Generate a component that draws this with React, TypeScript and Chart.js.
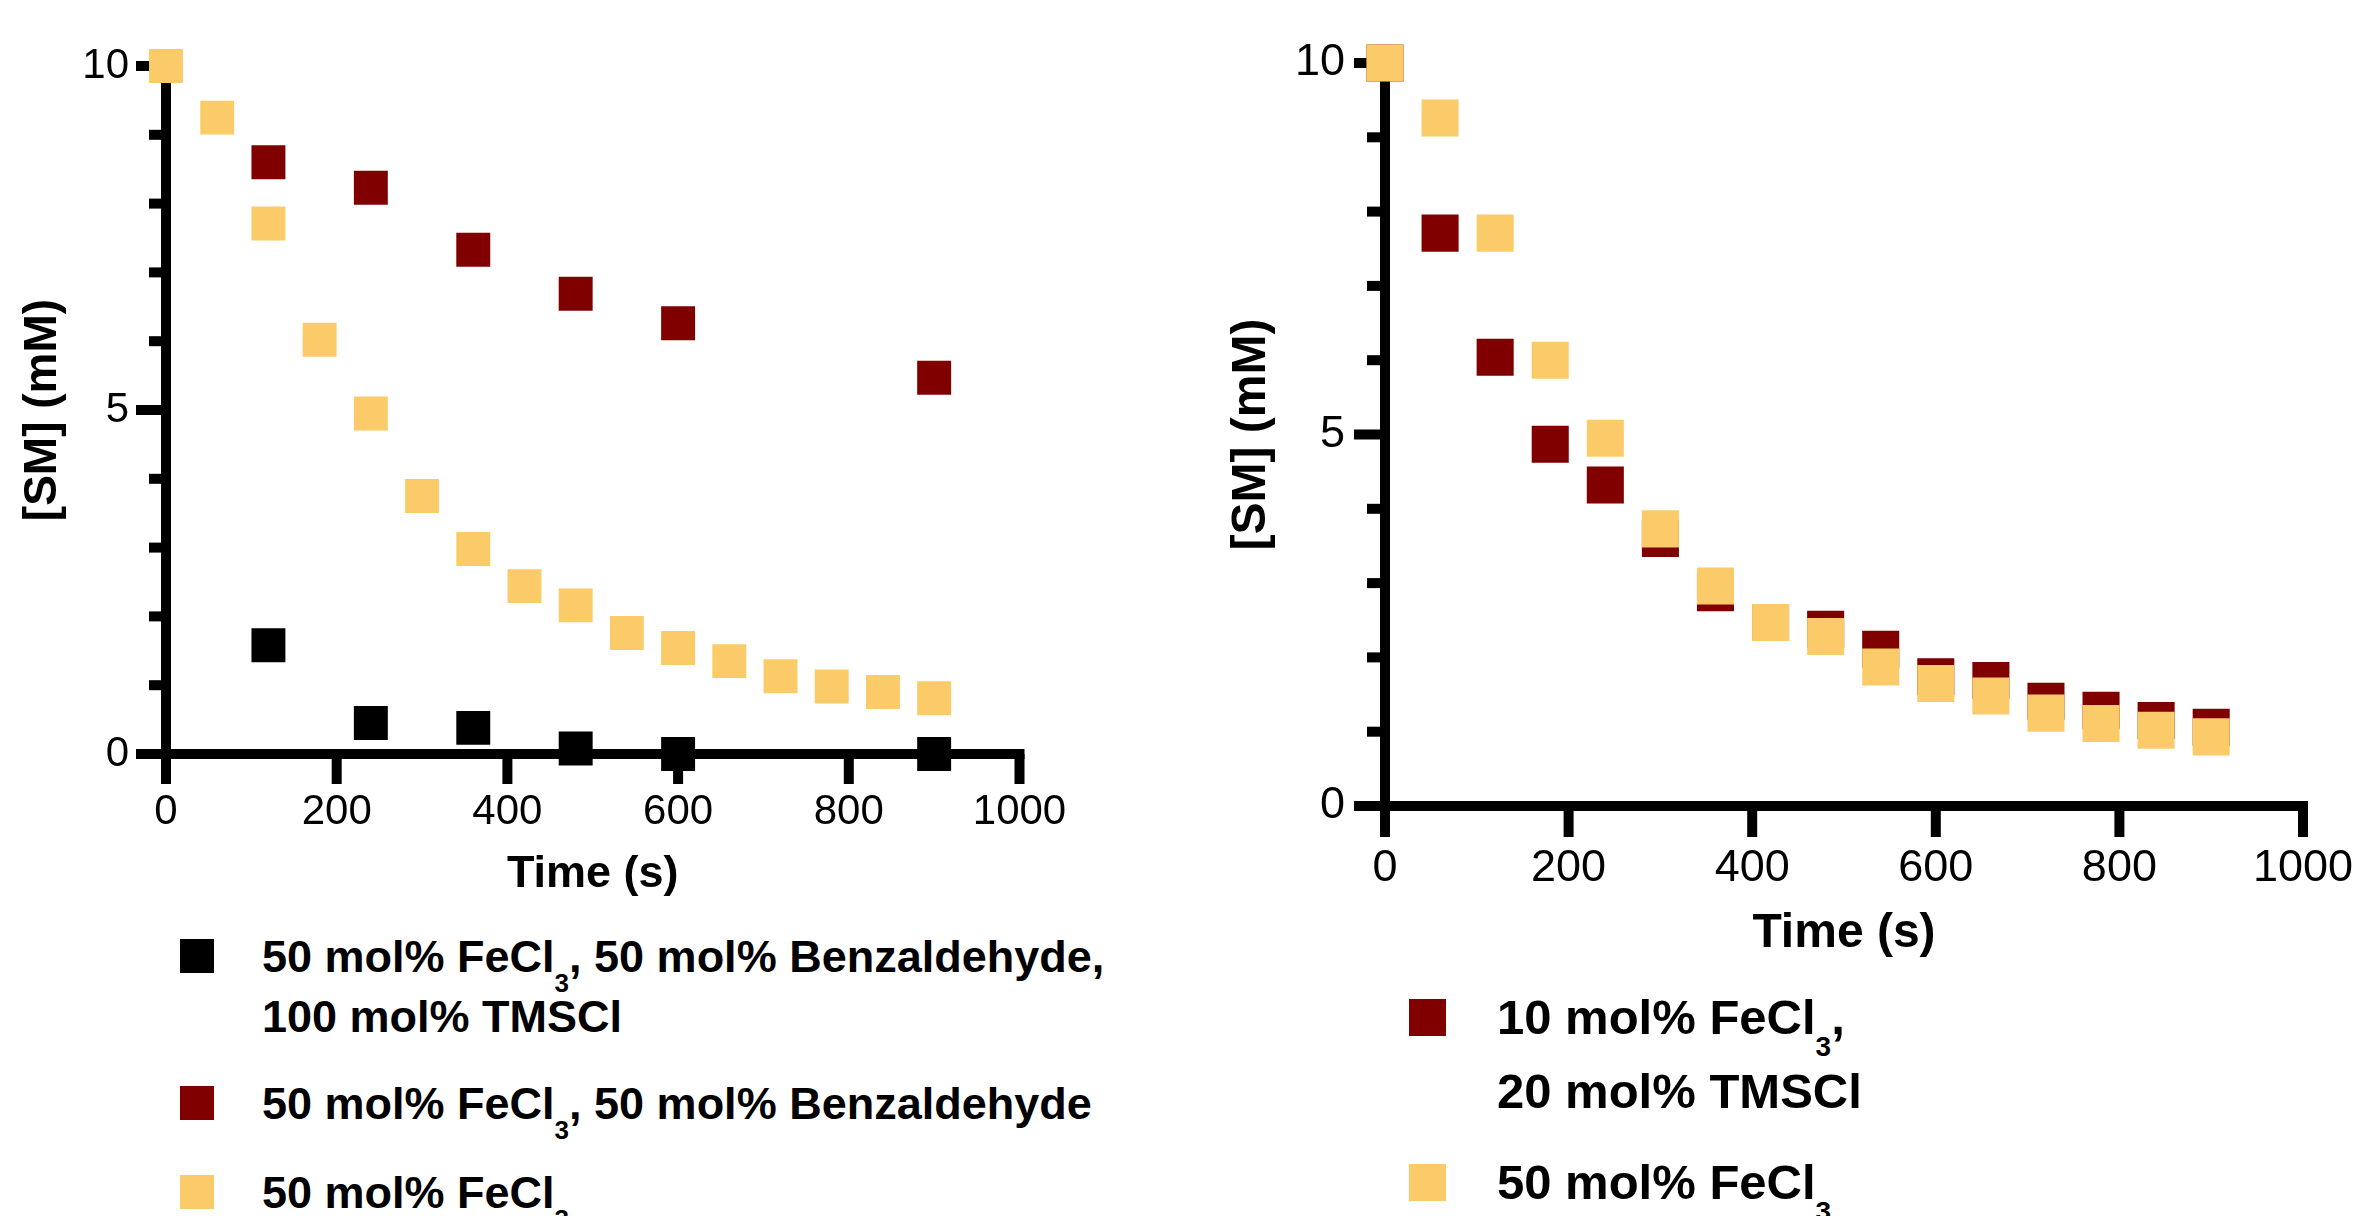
import React, { useEffect, useRef } from 'react';
import { Chart, registerables } from 'chart.js';

Chart.register(...registerables);

// ---------- DATA ----------
const timeLeftAll = [0, 60, 120, 180, 240, 300, 360, 420, 480, 540, 600, 660, 720, 780, 840, 900];
const smLeftFeCl3 = [10, 9.25, 7.71, 6.02, 4.95, 3.75, 2.98, 2.44, 2.16, 1.76, 1.54, 1.35, 1.13, 0.98, 0.9, 0.81];
const timeLeftSparse = [120, 240, 360, 480, 600, 900];
const smLeftBenz = [8.6, 8.23, 7.33, 6.69, 6.26, 5.47];
const smLeftBenzTMS = [1.58, 0.45, 0.38, 0.08, 0.0, 0.0];

const timeRight = [0, 60, 120, 180, 240, 300, 360, 420, 480, 540, 600, 660, 720, 780, 840, 900];
const smRightFeCl3 = [10, 9.26, 7.71, 6.0, 4.95, 3.73, 2.96, 2.47, 2.28, 1.87, 1.65, 1.48, 1.25, 1.11, 1.02, 0.93];
const smRightTMS = [10, 7.71, 6.04, 4.87, 4.32, 3.6, 2.87, 2.47, 2.38, 2.11, 1.74, 1.69, 1.41, 1.29, 1.15, 1.06];

const xTitle = 'Time (s)';
const yTitle = '[SM] (mM)';
const xMin = 0, xMax = 1000, xStep = 200;
const yMin = 0, yMax = 10, yStep = 1, yLabelEvery = 5;

const labelsLeft = [
  ['50 mol% FeCl_3, 50 mol% Benzaldehyde,', '100 mol% TMSCl'],
  ['50 mol% FeCl_3, 50 mol% Benzaldehyde'],
  ['50 mol% FeCl_3'],
];
const labelsRight = [
  ['10 mol% FeCl_3,', '20 mol% TMSCl'],
  ['50 mol% FeCl_3'],
];

const BLACK = '#000000';
const MAROON = '#800000';
const YELLOW = '#FCCB69';
const FONT = '"Liberation Sans", Arial, Helvetica, sans-serif';

const pts = (xs: number[], ys: number[]) => xs.map((x, i) => ({ x, y: ys[i] }));

// ---------- axis drawing plugin (uses chart scales) ----------
function axesPlugin(major: number, minor: number, lw: number) {
  return {
    id: 'prismAxes',
    beforeDatasetsDraw(chart: any) {
      const { ctx } = chart;
      const xs = chart.scales.x;
      const ys = chart.scales.y;
      const left = xs.getPixelForValue(xMin);
      const right = xs.getPixelForValue(xMax);
      const top = ys.getPixelForValue(yMax);
      const bottom = ys.getPixelForValue(yMin);
      const h = lw / 2;
      ctx.save();
      ctx.fillStyle = '#000';
      ctx.fillRect(left - h, top - h, lw, bottom - top + h);
      ctx.fillRect(left - h - major, bottom - h, right - left + lw + major, lw);
      ys.ticks.forEach((t: any) => {
        const y = ys.getPixelForValue(t.value);
        const len = Math.round(t.value) % yLabelEvery === 0 ? major : minor;
        ctx.fillRect(left - h - len, y - h, len, lw);
      });
      xs.ticks.forEach((t: any) => {
        const x = xs.getPixelForValue(t.value);
        ctx.fillRect(x - h, bottom, lw, h + major);
      });
      ctx.restore();
    },
  };
}

interface PanelOpts {
  width: number;
  height: number;
  areaLeft: number;
  areaTop: number;
  areaRight: number;
  areaBottom: number;
  tickSize: number;
  tickPad: number;
  xTitleSize: number;
  xTitlePadBottom: number;
  yTitleSize: number;
  yTitlePadTop: number;
  radius: number;
  major: number;
  minor: number;
  lw: number;
  datasets: any[];
}

function buildConfig(o: PanelOpts): any {
  const tickFont = { family: FONT, size: o.tickSize, lineHeight: 1 };
  return {
    type: 'scatter',
    data: {
      datasets: o.datasets.map((d) => ({
        ...d,
        pointStyle: 'rect',
        pointRadius: o.radius,
        pointHoverRadius: o.radius,
        borderWidth: 0,
        pointBorderWidth: 0,
        borderColor: d.backgroundColor,
        showLine: false,
        clip: false,
      })),
    },
    options: {
      animation: false,
      responsive: false,
      maintainAspectRatio: false,
      events: [],
      layout: {
        padding: { top: o.areaTop, left: 0, right: o.width - o.areaRight, bottom: 0 },
      },
      plugins: { legend: { display: false }, tooltip: { enabled: false } },
      scales: {
        x: {
          type: 'linear',
          min: xMin,
          max: xMax,
          grid: { display: false, drawTicks: false },
          border: { display: false },
          ticks: {
            stepSize: xStep,
            padding: o.tickPad,
            color: '#000',
            font: tickFont,
            maxRotation: 0,
            autoSkip: false,
            callback: (v: number) => String(v),
          },
          title: {
            display: true,
            text: xTitle,
            color: '#000',
            font: { family: FONT, size: o.xTitleSize, weight: 'bold', lineHeight: 1 },
            padding: { top: 0, bottom: o.xTitlePadBottom },
          },
          afterFit: (s: any) => {
            s.height = o.height - o.areaBottom;
            s.paddingLeft = 0;
            s.paddingRight = 0;
          },
        },
        y: {
          type: 'linear',
          min: yMin,
          max: yMax,
          grid: { display: false, drawTicks: false },
          border: { display: false },
          ticks: {
            stepSize: yStep,
            padding: o.tickPad,
            color: '#000',
            font: tickFont,
            autoSkip: false,
            callback: (v: number) => (Math.round(v) % yLabelEvery === 0 ? String(v) : ''),
          },
          title: {
            display: true,
            text: yTitle,
            color: '#000',
            font: { family: FONT, size: o.yTitleSize, weight: 'bold', lineHeight: 1 },
            padding: { top: o.yTitlePadTop, bottom: 0 },
          },
          afterFit: (s: any) => {
            s.width = o.areaLeft;
            s.paddingTop = 0;
            s.paddingBottom = 0;
          },
        },
      },
    },
    plugins: [axesPlugin(o.major, o.minor, o.lw)],
  };
}

function Panel({ left, top, opts }: { left: number; top: number; opts: PanelOpts }) {
  const ref = useRef<HTMLCanvasElement>(null);
  useEffect(() => {
    const chart = new Chart(ref.current as HTMLCanvasElement, buildConfig(opts));
    return () => chart.destroy();
  }, []);
  return (
    <canvas
      ref={ref}
      width={opts.width}
      height={opts.height}
      style={{ position: 'absolute', left, top, width: opts.width, height: opts.height }}
    />
  );
}

function RichLine({ text, fs }: { text: string; fs: number }) {
  const parts = text.split(/_(\d)/);
  return (
    <>
      {parts.map((p, i) =>
        i % 2 === 1 ? (
          <span
            key={i}
            style={{ fontSize: Math.round(fs * 0.58), position: 'relative', top: Math.round(fs * 0.45) }}
          >
            {p}
          </span>
        ) : (
          <span key={i}>{p}</span>
        )
      )}
    </>
  );
}

interface LegendItem {
  color: string;
  cy: number;
  lines: string[];
}

function Legend({ items, sqX, sq, textX, fs, lineGap }: { items: LegendItem[]; sqX: number; sq: number; textX: number; fs: number; lineGap: number }) {
  return (
    <>
      {items.map((it, k) => (
        <React.Fragment key={k}>
          <div
            style={{
              position: 'absolute',
              left: sqX - sq / 2,
              top: it.cy - sq / 2,
              width: sq,
              height: sq,
              background: it.color,
            }}
          />
          {it.lines.map((ln, j) => (
            <div
              key={j}
              style={{
                position: 'absolute',
                left: textX,
                top: Math.round(it.cy + j * lineGap - 0.49 * fs),
                fontSize: fs,
                lineHeight: 1,
                fontWeight: 'bold',
                fontFamily: FONT,
                color: '#000',
                whiteSpace: 'nowrap',
              }}
            >
              <RichLine text={ln} fs={fs} />
            </div>
          ))}
        </React.Fragment>
      ))}
    </>
  );
}

const leftOpts: PanelOpts = {
  width: 1150,
  height: 920,
  areaLeft: 166,
  areaTop: 66,
  areaRight: 1019.5,
  areaBottom: 754,
  tickSize: 42,
  tickPad: 37,
  xTitleSize: 45,
  xTitlePadBottom: 22.5,
  yTitleSize: 46,
  yTitlePadTop: 20,
  radius: 24,
  major: 25,
  minor: 12,
  lw: 10,
  datasets: [
    { label: labelsLeft[0].join(' '), data: pts(timeLeftSparse, smLeftBenzTMS), backgroundColor: BLACK },
    { label: labelsLeft[1].join(' '), data: pts(timeLeftSparse, smLeftBenz), backgroundColor: MAROON },
    { label: labelsLeft[2].join(' '), data: pts(timeLeftAll, smLeftFeCl3), backgroundColor: YELLOW },
  ],
};

const RIGHT_LEFT = 1180;
const rightOpts: PanelOpts = {
  width: 1176,
  height: 980,
  areaLeft: 1385 - RIGHT_LEFT,
  areaTop: 63,
  areaRight: 2303 - RIGHT_LEFT,
  areaBottom: 806,
  tickSize: 45,
  tickPad: 40,
  xTitleSize: 48,
  xTitlePadBottom: 22,
  yTitleSize: 48,
  yTitlePadTop: 48,
  radius: 26.2,
  major: 26,
  minor: 13,
  lw: 10,
  datasets: [
    // index 0 is drawn on top
    { label: labelsRight[1].join(' '), data: pts(timeRight, smRightFeCl3), backgroundColor: YELLOW },
    { label: labelsRight[0].join(' '), data: pts(timeRight, smRightTMS), backgroundColor: MAROON },
  ],
};

export default function App() {
  return (
    <div
      style={{
        position: 'fixed',
        left: 0,
        top: 0,
        width: 2356,
        height: 1216,
        overflow: 'hidden',
        background: '#fff',
      }}
    >
      <Panel left={0} top={0} opts={leftOpts} />
      <Panel left={RIGHT_LEFT} top={0} opts={rightOpts} />
      <Legend
        sqX={197}
        sq={34}
        textX={262}
        fs={45}
        lineGap={60}
        items={[
          { color: BLACK, cy: 956, lines: labelsLeft[0] },
          { color: MAROON, cy: 1103, lines: labelsLeft[1] },
          { color: YELLOW, cy: 1192, lines: labelsLeft[2] },
        ]}
      />
      <Legend
        sqX={1427}
        sq={37}
        textX={1497}
        fs={49}
        lineGap={74}
        items={[
          { color: MAROON, cy: 1017, lines: labelsRight[0] },
          { color: YELLOW, cy: 1182, lines: labelsRight[1] },
        ]}
      />
    </div>
  );
}
